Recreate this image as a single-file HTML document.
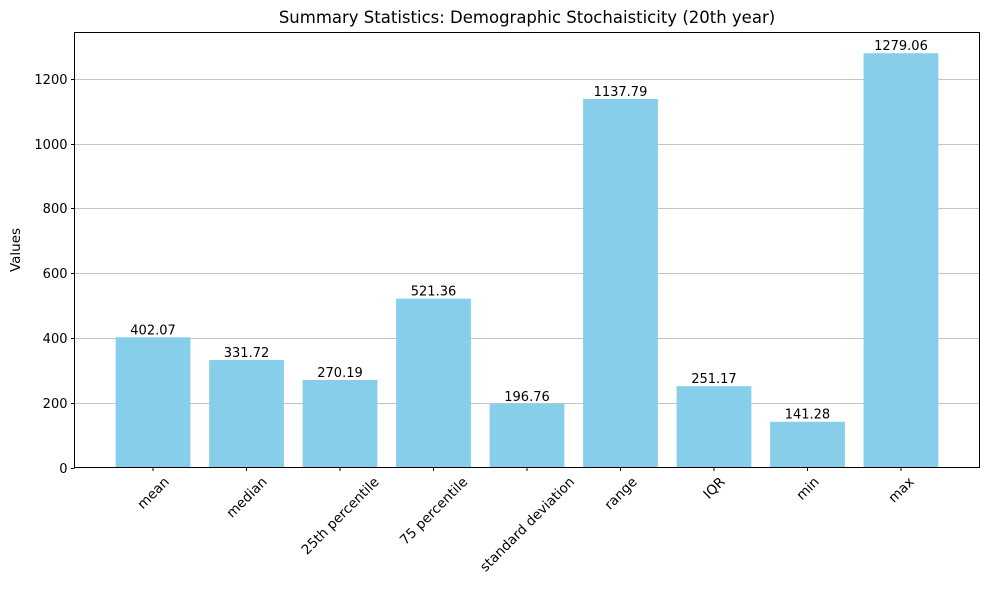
<!DOCTYPE html>
<html><head><meta charset="utf-8"><style>
body{margin:0;background:#fff;}
svg{display:block;font-family:"DejaVu Sans","Liberation Sans",sans-serif;}
</style></head><body>
<svg id="chart" width="989" height="590">
<text x="527" y="23" text-anchor="middle" font-size="16.5">Summary Statistics: Demographic Stochaisticity (20th year)</text>
<text transform="translate(20,250) rotate(-90)" text-anchor="middle" font-size="13.5">Values</text>
<g id="grid"></g><g id="bars"></g><g id="labels"></g><g id="yticks"></g><g id="xticks"></g>
<rect x="74.5" y="32.5" width="905" height="435" fill="none" stroke="#000" stroke-width="1"/>
</svg>
<script>
const categories=["mean","median","25th percentile","75 percentile","standard deviation","range","IQR","min","max"];
const values=[402.07,331.72,270.19,521.36,196.76,1137.79,251.17,141.28,1279.06];
const yTicks=[0,200,400,600,800,1000,1200];
const NS="http://www.w3.org/2000/svg";
const L=74.5,R=979.5,T=32.5,B=467.5;
const ymax=Math.max(...values)*1.05;
const y=v=>B-(v/ymax)*(B-T);
const xmin=-0.84,xmax=categories.length-1+0.84;
const x=i=>L+(i-xmin)/(xmax-xmin)*(R-L);
const bw=0.8*(R-L)/(xmax-xmin);
function mk(t,a,p){const e=document.createElementNS(NS,t);for(const k in a)e.setAttribute(k,a[k]);document.getElementById(p).appendChild(e);return e;}
yTicks.forEach(v=>{
 const yy=Math.round(y(v))+0.5;
 if(v>0){const g=mk("line",{x1:L,x2:R,y1:yy,y2:yy,stroke:"#b0b0b0","stroke-width":0.8},"grid");
 
 }
 const tk=mk("line",{x1:L-3.5,x2:L,y1:yy,y2:yy,stroke:"#000"},"yticks");
 
 
 const t=mk("text",{x:L-7,y:yy+4.5,"text-anchor":"end","font-size":13},"yticks");
 t.textContent=v;
 
 
});
categories.forEach((c,i)=>{
 const cx=x(i);
 const b=mk("rect",{x:cx-bw/2,y:y(values[i]),width:bw,height:B-y(values[i]),fill:"#87ceeb"},"bars");
 
 
 const lb=mk("text",{x:cx,y:y(values[i])-3,"text-anchor":"middle","font-size":13},"labels");
 lb.textContent=values[i].toFixed(2);
 
 
 const tk=mk("line",{x1:cx,x2:cx,y1:B,y2:B+3.5,stroke:"#000"},"xticks");
 
 
 const t=mk("text",{"text-anchor":"middle","font-size":13.5,dy:"0.35em"},"xticks");
 t.textContent=c;
 const len=t.getComputedTextLength();
 const hh=(len+13.5)*0.7071;
 t.setAttribute("transform",`translate(${cx},${B+7+hh/2}) rotate(-45)`);
 
 
});
</script>
</body></html>
